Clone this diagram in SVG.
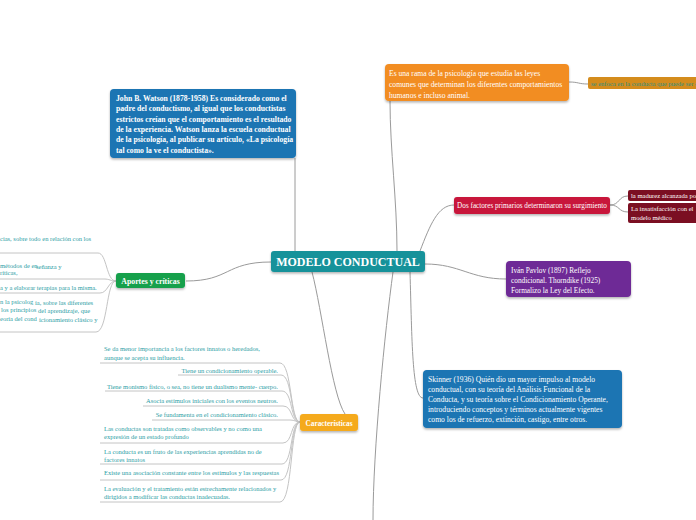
<svg xmlns="http://www.w3.org/2000/svg" width="696" height="520" viewBox="0 0 696 520">
<defs>
<filter id="sh" x="-10%" y="-20%" width="120%" height="150%">
<feDropShadow dx="0" dy="1.5" stdDeviation="1.2" flood-color="#000" flood-opacity="0.3"/>
</filter>
<style>
.c{fill:none;stroke:#9a9a9a;stroke-width:1}
.u{fill:none;stroke:#c4c4c4;stroke-width:1}
text{font-family:"Liberation Serif","Times New Roman",serif}
.w{fill:#fff}
.b{font-weight:bold}
.t{fill:#2b9ea5;font-size:6.5px}
.n{filter:url(#sh)}
</style>
</defs>
<rect width="696" height="520" fill="#fff"/>

<g id="connectors">
<path class="c" d="M295,158 L295,251"/>
<path class="c" d="M397,251 C397,200 390,150 390,101"/>
<path class="c" d="M569,82 C579,82 578,84 588,84"/>
<path class="c" d="M420,251 C430,225 438,205 454,205"/>
<path class="c" d="M610,205 C620,205 618,196 628,196"/>
<path class="c" d="M610,205 C620,205 618,212 628,212"/>
<path class="c" d="M425,264 C460,264 470,279 506,279"/>
<path class="c" d="M410,272 C412,340 412,398 423,398"/>
<path class="c" d="M312,272 C322,310 332,395 345,414"/>
<path class="c" d="M393,272 C385,330 373,450 373,520"/>
<path class="c" d="M271,262 C225,262 230,281 186,281"/>
<path class="u" d="M0,253 H98 C107,253 106,281 116,281"/>
<path class="u" d="M0,279 H104 C110,279 110,281 116,281"/>
<path class="u" d="M0,293 H100 C108,293 108,281 116,281"/>
<path class="u" d="M0,332 H96 C108,332 106,281 116,281"/>
<path class="u" d="M100,363 H280 C292,363 290,422 300,422"/>
<path class="u" d="M178,375 H281 C293,375 290,422 300,422"/>
<path class="u" d="M105,391 H282 C293,391 290,422 300,422"/>
<path class="u" d="M143,406 H283 C293,406 290,422 300,422"/>
<path class="u" d="M152,420 H290 C295,420 296,422 300,422"/>
<path class="u" d="M100,443 H283 C293,443 290,422 300,422"/>
<path class="u" d="M100,464 H282 C293,464 290,422 300,422"/>
<path class="u" d="M100,480 H281 C293,480 290,422 300,422"/>
<path class="u" d="M100,502 H280 C293,502 290,422 300,422"/>
</g>

<g id="center">
<rect class="n" x="271" y="251" width="154" height="21" rx="3" fill="#16929a"/>
<text class="w b" x="348" y="266" font-size="12" text-anchor="middle">MODELO CONDUCTUAL</text>
</g>

<g id="watson">
<rect class="n" x="110" y="89" width="186" height="69" rx="4" fill="#1a74b3"/>
<text class="w b" font-size="7.7" x="116">
<tspan x="116" y="101">John B. Watson (1878-1958) Es considerado como el</tspan>
<tspan x="116" y="111.3">padre del conductismo, al igual que los conductistas</tspan>
<tspan x="116" y="121.6">estrictos creían que el comportamiento es el resultado</tspan>
<tspan x="116" y="131.9">de la experiencia. Watson lanza la escuela conductual</tspan>
<tspan x="116" y="142.2">de la psicología, al publicar su artículo, «La psicología</tspan>
<tspan x="116" y="153">tal como la ve el conductista».</tspan>
</text>
</g>

<g id="definicion">
<rect class="n" x="385" y="64" width="184" height="37" rx="4" fill="#f28d22"/>
<text class="w" font-size="7.6">
<tspan x="389" y="76">Es una rama de la psicología que estudia las leyes</tspan>
<tspan x="389" y="87">comunes que determinan los diferentes comportamientos</tspan>
<tspan x="389" y="98">humanos e incluso animal.</tspan>
</text>
</g>

<g id="enfoca">
<rect x="588" y="77" width="110" height="12" rx="2" fill="#d48c1d"/>
<text x="591" y="85.5" font-size="6.6" fill="#2f8f80">se enfoca en la conducta que puede ser o</text>
</g>

<g id="dos-factores">
<rect class="n" x="454" y="197" width="156" height="17" rx="3" fill="#c8183a"/>
<text class="w" x="532" y="208" font-size="7.2" text-anchor="middle">Dos factores primarios determinaron su surgimiento</text>
</g>

<g id="madurez">
<rect x="628" y="190" width="70" height="11" rx="2" fill="#7b0f22"/>
<text class="w" x="631" y="198" font-size="6.6">la madurez alcanzada po</text>
</g>

<g id="insatisfaccion">
<rect x="628" y="203" width="70" height="20" rx="2" fill="#7b0f22"/>
<text class="w" font-size="6.6"><tspan x="631" y="211">La insatisfacción con el</tspan><tspan x="631" y="219.5">modelo médico</tspan></text>
</g>

<g id="pavlov">
<rect class="n" x="506" y="261" width="125" height="36" rx="4" fill="#6e2a96"/>
<text class="w" font-size="7.3">
<tspan x="511" y="272.5">Iván Pavlov (1897) Reflejo</tspan>
<tspan x="511" y="282.5">condicional. Thorndike (1925)</tspan>
<tspan x="511" y="292.5">Formalizo la Ley del Efecto.</tspan>
</text>
</g>

<g id="skinner">
<rect class="n" x="423" y="370" width="199" height="58" rx="4" fill="#1a74b3"/>
<text class="w" font-size="7.6">
<tspan x="428" y="381.5">Skinner (1936) Quién dio un mayor impulso al modelo</tspan>
<tspan x="428" y="391.8">conductual, con su teoría del Análisis Funcional de la</tspan>
<tspan x="428" y="402.1">Conducta, y su teoría sobre el Condicionamiento Operante,</tspan>
<tspan x="428" y="412.4">introduciendo conceptos y términos actualmente vigentes</tspan>
<tspan x="428" y="422.4">como los de refuerzo, extinción, castigo, entre otros.</tspan>
</text>
</g>

<g id="aportes">
<rect class="n" x="116" y="273" width="69" height="15" rx="3" fill="#12a04c"/>
<text class="w b" x="150.5" y="283.5" font-size="7.8" text-anchor="middle">Aportes y críticas</text>
</g>

<g id="aportes-items">
<text class="t" x="0" y="241">cias, sobre todo en relación con los</text>
<text class="t" x="0" y="268">métodos de en</text>
<text class="t" x="36" y="269">señanza y</text>
<text class="t" x="0" y="275">ríticas,</text>
<text class="t" x="0" y="290">a y a elaborar terapias para la misma.</text>
<text class="t" x="0" y="303.5">n la psicolog</text>
<text class="t" x="35" y="304.5">ía, sobre las diferentes</text>
<text class="t" x="1" y="312">los principios</text>
<text class="t" x="38" y="313">del aprendizaje, que</text>
<text class="t" x="0" y="320.5">eoría del cond</text>
<text class="t" x="39" y="321.5">icionamiento clásico y</text>
</g>

<g id="caracteristicas">
<rect class="n" x="300" y="414" width="58" height="17" rx="3" fill="#f5aa1c"/>
<text class="w b" x="329" y="425.5" font-size="7.3" text-anchor="middle">Características</text>
</g>

<g id="caracteristicas-items">
<text class="t"><tspan x="104" y="351">Se da menor importancia a los factores innatos o heredados,</tspan><tspan x="104" y="360">aunque se acepta su influencia.</tspan></text>
<text class="t" x="278" y="373" text-anchor="end">Tiene un condicionamiento operable.</text>
<text class="t" x="278" y="389" text-anchor="end">Tiene monismo físico, o sea, no tiene un dualismo mente- cuerpo.</text>
<text class="t" x="278" y="402.5" text-anchor="end">Asocia estímulos iniciales con los eventos neutros.</text>
<text class="t" x="278" y="417" text-anchor="end">Se fundamenta en el condicionamiento clásico.</text>
<text class="t"><tspan x="104" y="431">Las conductas son tratadas como observables y no como una</tspan><tspan x="104" y="439">expresión de un estado profundo</tspan></text>
<text class="t"><tspan x="104" y="454">La conducta es un fruto de las experiencias aprendidas no de</tspan><tspan x="104" y="462">factores innatos</tspan></text>
<text class="t" x="104" y="475">Existe una asociación constante entre los estímulos y las respuestas</text>
<text class="t"><tspan x="104" y="491">La evaluación y el tratamiento están estrechamente relacionados y</tspan><tspan x="104" y="499">dirigidos a modificar las conductas inadecuadas.</tspan></text>
</g>
</svg>
